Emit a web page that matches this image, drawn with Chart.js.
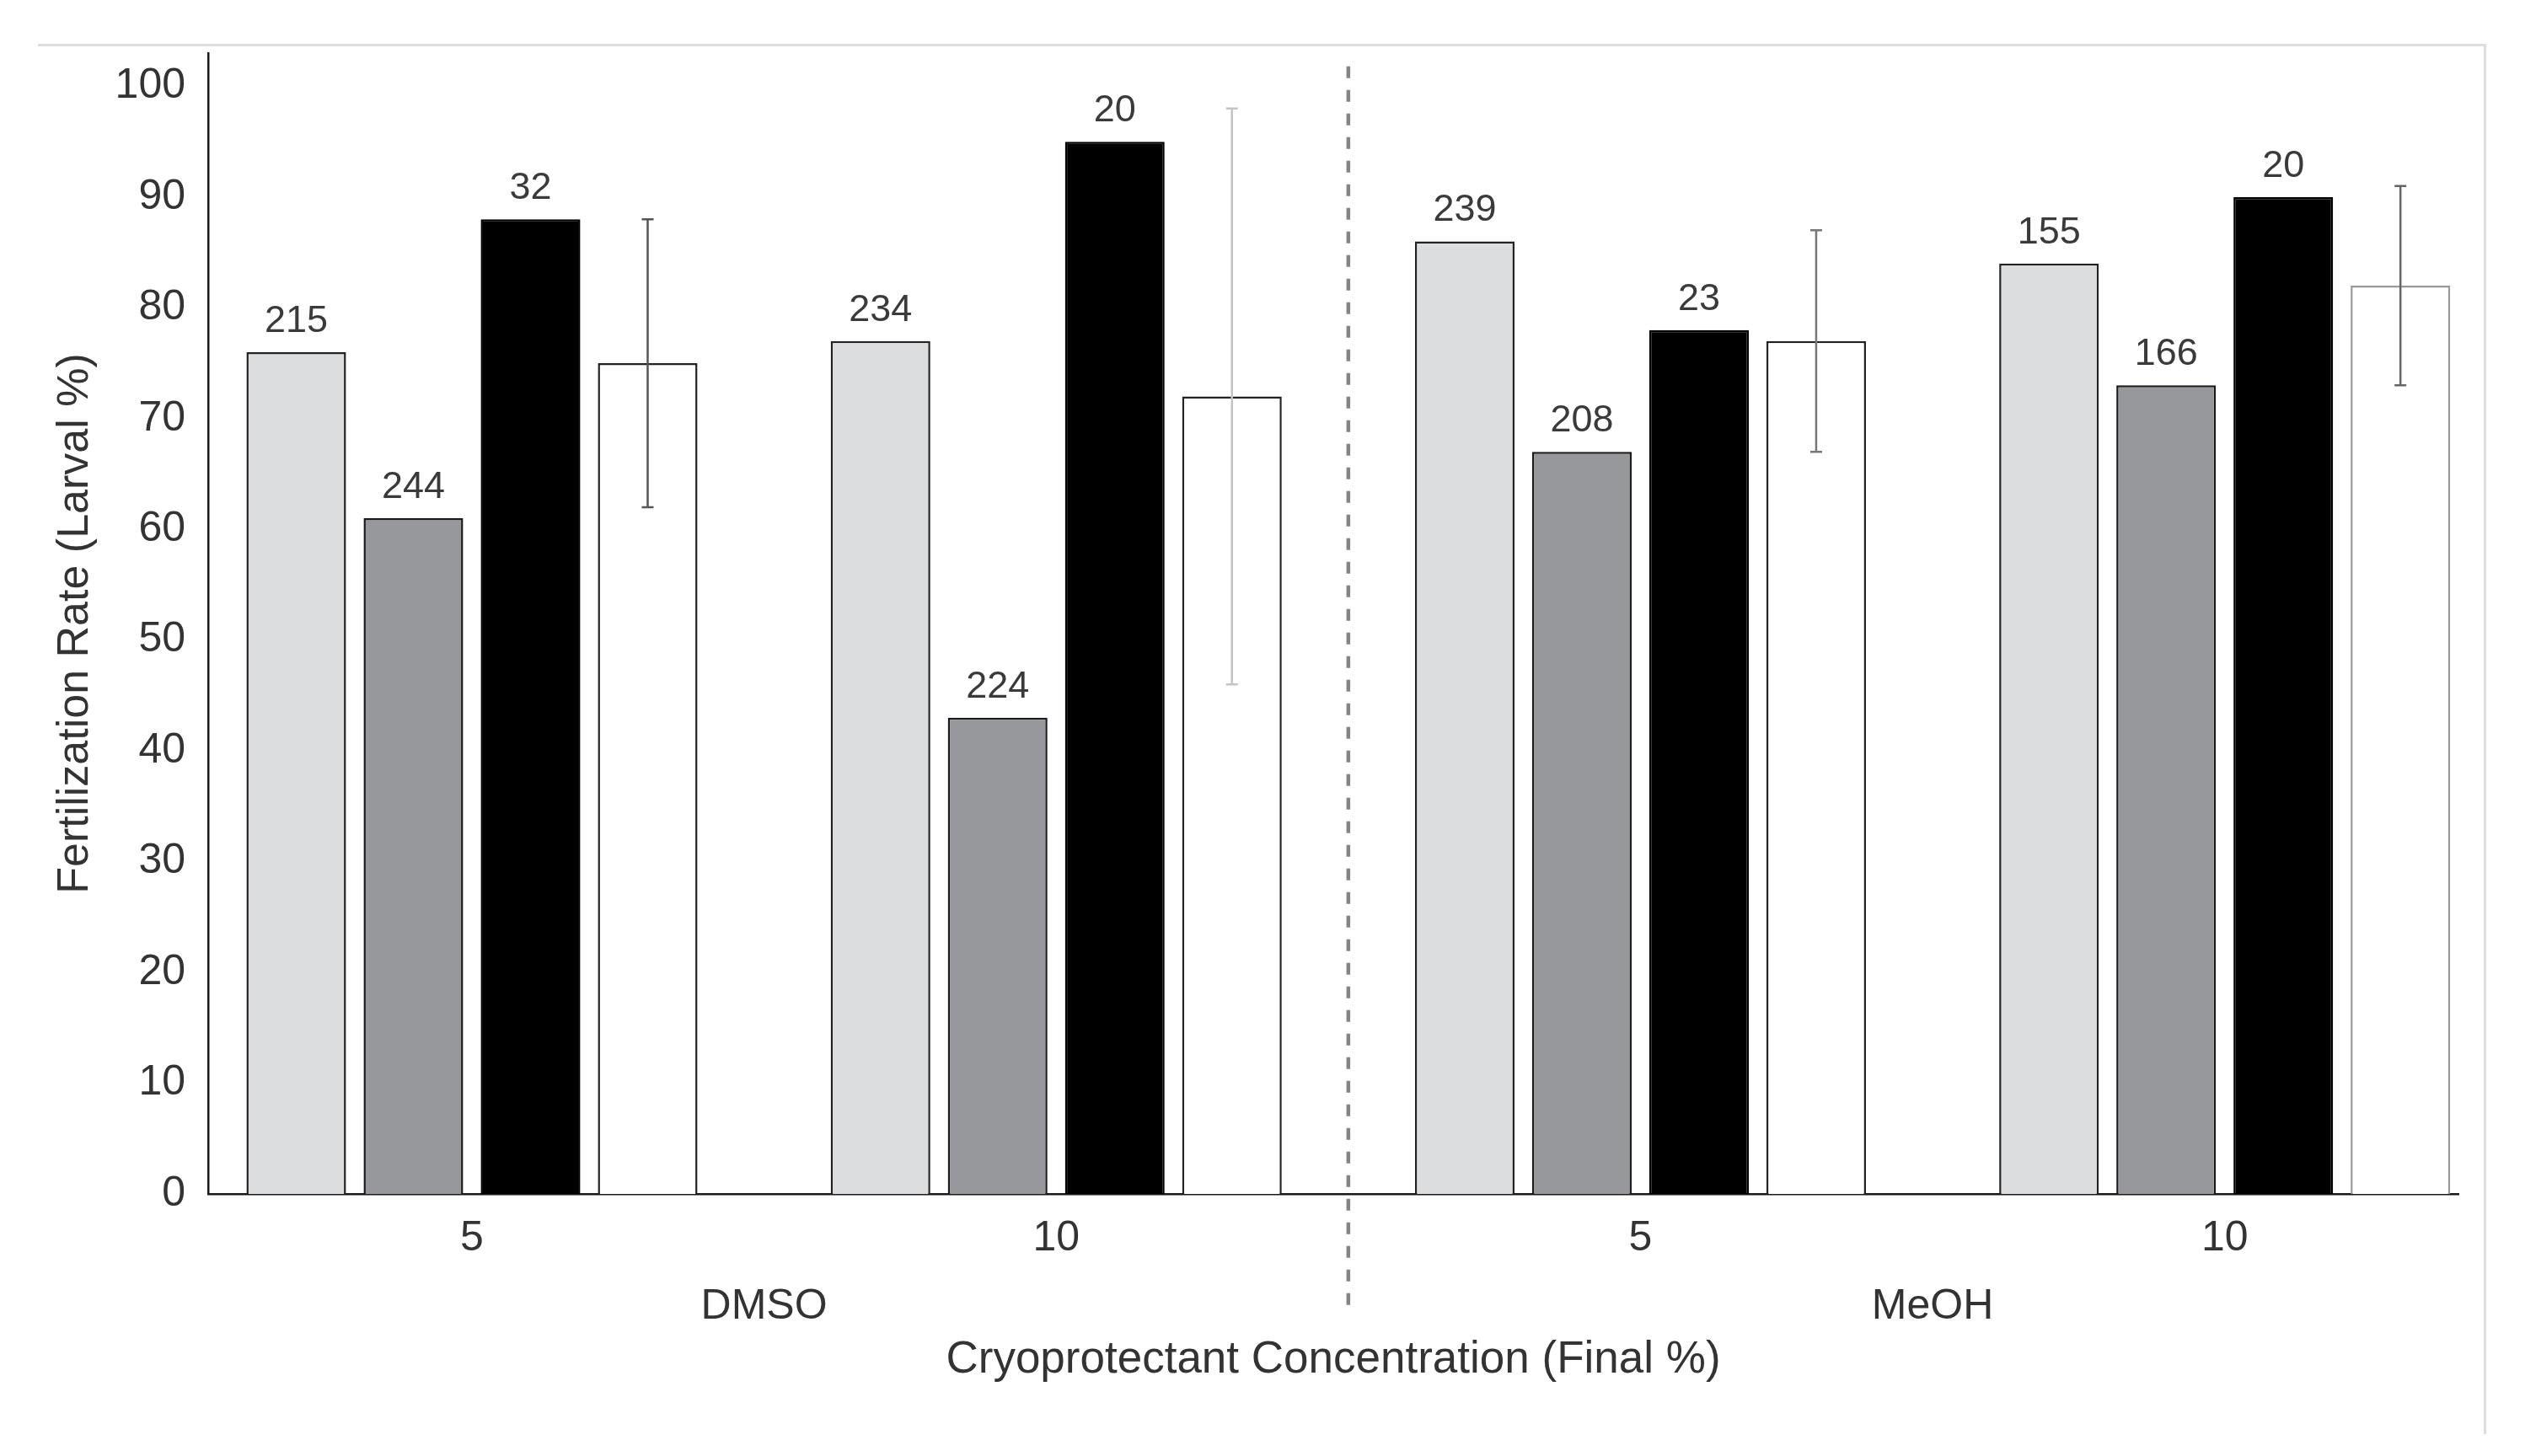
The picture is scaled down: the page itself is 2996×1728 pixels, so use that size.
<!DOCTYPE html>
<html>
<head>
<meta charset="utf-8">
<script src="https://cdn.jsdelivr.net/npm/chart.js@4.4.1/dist/chart.umd.min.js"></script>
<style>
html, body { margin: 0; padding: 0; background: #fff; }
#wrap { position: relative; width: 2996px; height: 1728px; }
#frame { position: absolute; left: 45px; top: 52px; width: 2902px; height: 1647px;
         border-top: 3px solid #dddddd; border-right: 3px solid #dddddd; }
canvas { position: absolute; left: 0; top: 0; }
</style>
</head>
<body>
<div id="wrap">
  <div id="frame"></div>
  <canvas id="chart" width="2996" height="1728"></canvas>
</div>
<script>
// groups on the x axis
const concentrations = ['5', '10', '5', '10'];
const solvents = ['DMSO', 'MeOH'];
const solventPositions = [0.5, 2.5];

// bar heights (Fertilization Rate %)
const lightGrayValues = [76, 77, 86, 84];
const midGrayValues = [61, 43, 67, 73];
const blackValues = [88, 95, 78, 90];
const whiteValues = [75, 72, 77, 82];
const whiteErrors = [13, 26, 10, 9];

// n counts printed above bars
const lightGrayCounts = [215, 234, 239, 155];
const midGrayCounts = [244, 224, 208, 166];
const blackCounts = [32, 20, 23, 20];

const yTicks = [0, 10, 20, 30, 40, 50, 60, 70, 80, 90, 100];

const FONT = "'Liberation Sans', Arial, sans-serif";
Chart.defaults.font.family = FONT;
Chart.defaults.color = '#333';

const toPoints = vals => vals.map((v, i) => ({ x: i, y: v }));

const countLabels = {
    id: 'countLabels',
    afterDatasetsDraw(chart) {
        const ctx = chart.ctx;
        ctx.save();
        ctx.font = `45px ${FONT}`;
        ctx.fillStyle = '#3a3a3a';
        ctx.textAlign = 'center';
        ctx.textBaseline = 'alphabetic';
        chart.data.datasets.forEach((ds, i) => {
            if (!ds.counts) return;
            chart.getDatasetMeta(i).data.forEach((bar, j) => {
                ctx.fillText(String(ds.counts[j]), bar.x, bar.y - 24);
            });
        });
        ctx.restore();
    }
};

const errorBars = {
    id: 'errorBars',
    afterDatasetsDraw(chart) {
        const { ctx, scales: { y } } = chart;
        ctx.save();
        chart.data.datasets.forEach((ds, i) => {
            if (!ds.errors) return;
            chart.getDatasetMeta(i).data.forEach((bar, j) => {
                const v = ds.data[j].y, e = ds.errors[j];
                const top = y.getPixelForValue(v + e);
                const bot = y.getPixelForValue(v - e);
                ctx.strokeStyle = ds.errorColors[j];
                ctx.lineWidth = 2.5;
                ctx.beginPath();
                ctx.moveTo(bar.x, top); ctx.lineTo(bar.x, bot);
                ctx.moveTo(bar.x - 7, top); ctx.lineTo(bar.x + 7, top);
                ctx.moveTo(bar.x - 7, bot); ctx.lineTo(bar.x + 7, bot);
                ctx.stroke();
            });
        });
        ctx.restore();
    }
};

const separator = {
    id: 'separator',
    afterDatasetsDraw(chart) {
        const { ctx, scales: { x, y }, chartArea } = chart;
        const px = x.getPixelForValue(1.5);
        ctx.save();
        ctx.strokeStyle = '#858585';
        ctx.lineWidth = 4.5;
        ctx.setLineDash([14, 14]);
        ctx.beginPath();
        ctx.moveTo(px, y.getPixelForValue(101.8));
        ctx.lineTo(px, chartArea.bottom + 145);
        ctx.stroke();
        ctx.restore();
    }
};

new Chart(document.getElementById('chart'), {
    type: 'bar',
    data: {
        datasets: [
            { data: toPoints(lightGrayValues), counts: lightGrayCounts,
              backgroundColor: '#dcdddf', borderColor: '#222', borderWidth: 2.5 },
            { data: toPoints(midGrayValues), counts: midGrayCounts,
              backgroundColor: '#97989b', borderColor: '#1a1a1a', borderWidth: 2.5 },
            { data: toPoints(blackValues), counts: blackCounts,
              backgroundColor: '#000', borderColor: '#000', borderWidth: 2.5 },
            { data: toPoints(whiteValues), errors: whiteErrors,
              errorColors: ['#555', '#c4c4c4', '#777', '#666'],
              backgroundColor: '#fff', borderColor: ['#222', '#222', '#222', '#999'], borderWidth: 2.5 }
        ]
    },
    options: {
        responsive: false,
        devicePixelRatio: 1,
        animation: false,
        categoryPercentage: 0.802,
        barPercentage: 0.85,
        layout: { padding: { left: 0, right: 79, top: 63, bottom: 0 } },
        plugins: { legend: { display: false }, tooltip: { enabled: false } },
        scales: {
            x: {
                type: 'linear',
                position: 'bottom',
                offset: false,
                min: -0.4515,
                max: 3.4,
                weight: 0,
                grid: { display: false },
                border: { display: true, color: '#1a1a1a', width: 2.5 },
                afterBuildTicks: s => { s.ticks = concentrations.map((c, i) => ({ value: i })); },
                afterFit: s => { s.height = 90; },
                ticks: {
                    padding: 15,
                    font: { size: 50 },
                    color: '#333',
                    callback: v => concentrations[Math.round(v)]
                }
            },
            x2: {
                type: 'linear',
                position: 'bottom',
                offset: false,
                min: -0.4515,
                max: 3.4,
                weight: 1,
                grid: { display: false },
                border: { display: false },
                afterBuildTicks: s => { s.ticks = solventPositions.map(p => ({ value: p })); },
                afterFit: s => { s.height = 221; },
                ticks: {
                    padding: 6,
                    font: { size: 50 },
                    color: '#333',
                    callback: (v, i) => solvents[i]
                },
                title: {
                    display: true,
                    text: 'Cryoprotectant Concentration (Final %)',
                    font: { size: 53 },
                    color: '#333',
                    padding: { top: 0, bottom: 82 }
                }
            },
            y: {
                min: 0,
                max: 103,
                grid: { display: false },
                border: { display: true, color: '#1a1a1a', width: 2.5 },
                afterBuildTicks: s => { s.ticks = yTicks.map(v => ({ value: v })); },
                afterFit: s => { s.width = 247; },
                ticks: { padding: 19, font: { size: 50 }, color: '#333' },
                title: {
                    display: true,
                    text: 'Fertilization Rate (Larval %)',
                    font: { size: 52 },
                    color: '#333',
                    padding: { top: 58, bottom: 0 }
                }
            }
        }
    },
    plugins: [separator, errorBars, countLabels]
});
</script>
</body>
</html>
